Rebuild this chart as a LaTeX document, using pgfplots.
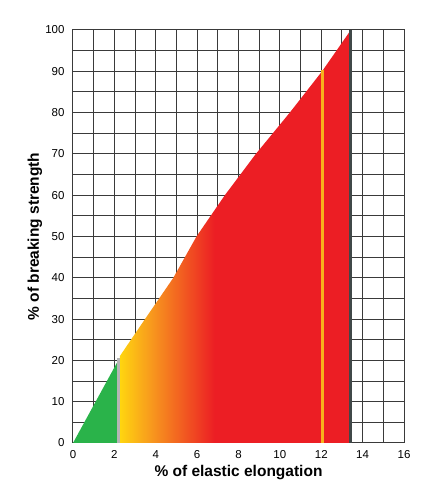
\documentclass[border=0pt]{standalone}
\usepackage{pgfplots}
\pgfplotsset{compat=1.18}
\usepackage{fontspec}
\setmainfont{Liberation Sans}

\definecolor{zgreen}{HTML}{2AB34A}
\definecolor{zyellow}{HTML}{FFD50F}
\definecolor{zyelor}{HTML}{FBB817}
\definecolor{zorange}{HTML}{F7941E}
\definecolor{zred}{HTML}{EC1E24}
\definecolor{zline}{HTML}{F7B21C}
\definecolor{zdark}{HTML}{404848}
\definecolor{zgrey}{HTML}{B5B5B5}
\definecolor{zgrid}{HTML}{3A3A3A}

% yellow -> orange -> red across the elastic range
\pgfdeclarehorizontalshading{elong}{100bp}{color(0bp)=(zyellow); color(25bp)=(zyellow);
  color(28.3bp)=(zyelor); color(32.3bp)=(zorange); color(45.5bp)=(zred); color(100bp)=(zred)}

\begin{document}
\begin{tikzpicture}
\begin{axis}[
  scale only axis, width=331bp, height=413bp,
  xmin=0, xmax=16, ymin=0, ymax=100,
  xtick={0,2,...,16}, minor xtick={1,3,...,15},
  ytick={0,10,...,100}, minor ytick={5,15,...,95},
  grid=both,
  grid style={zgrid, line width=1bp},
  minor grid style={zgrid, line width=1bp},
  axis line style={zgrid, line width=1bp},
  major tick length=0pt, minor tick length=0pt,
  /pgf/number format/assume math mode=true,
  tick label style={font=\fontsize{11.5bp}{13bp}\selectfont},
  xticklabel style={yshift=-4bp},
  yticklabel style={xshift=-5bp},
  xlabel={\textbf{\% of elastic elongation}},
  ylabel={\textbf{\% of breaking strength}},
  label style={font=\fontsize{15.5bp}{18bp}\selectfont},
  xlabel style={at={(axis description cs:0.5,-0.0726)}, anchor=center},
  ylabel style={at={(axis description cs:-0.115,0.5)}, anchor=center},
]
% green zone
\addplot[fill=zgreen, draw=none] coordinates {(0,0) (2.12,19.4) (2.12,0)} -- cycle;
% yellow to red zone
\addplot[shade, shading=elong, draw=none] coordinates {
  (2.26,0) (2.26,21) (3.48,30) (4.85,40) (5.97,50) (7.34,60)
  (8.84,70) (10.48,80) (12.04,90) (13.43,100) (13.43,0)} -- cycle;
% boundary lines
\addplot[zgrey, line width=3bp] coordinates {(2.19,0) (2.19,20.6)};
\addplot[zline, line width=3bp] coordinates {(12.05,0) (12.05,90.2)};
\addplot[zdark, line width=3bp] coordinates {(13.43,0) (13.43,100)};
\end{axis}
\pgfresetboundingbox
\path ([xshift=-73bp,yshift=-57bp]current axis.south west) rectangle ([xshift=36bp,yshift=30bp]current axis.north east);
\end{tikzpicture}
\end{document}
